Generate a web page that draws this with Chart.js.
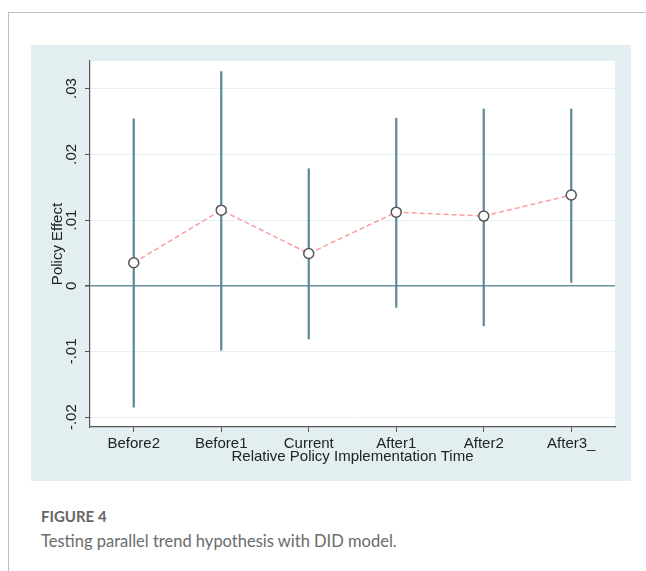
<!DOCTYPE html>
<html>
<head>
<meta charset="utf-8">
<script src="https://cdn.jsdelivr.net/npm/chart.js@4"></script>
<style>
  body { margin: 0; background: #fff; width: 646px; height: 571px; overflow: hidden; position: relative; }
  .frame { position: absolute; left: 8px; top: 12px; width: 640px; height: 570px; border-top: 1px solid #bdbdbd; border-left: 1px solid #bdbdbd; }
  .panel { position: absolute; left: 31px; top: 45px; width: 600px; height: 436px; background: #e2eef0; }
  .cap1 { position: absolute; left: 41px; top: 507px; font: bold 15px Lato, "Open Sans", sans-serif; color: #666; }
  .cap2 { position: absolute; left: 41px; top: 531px; font: 16.5px Lato, "Open Sans", sans-serif; color: #6b6b6b; }
</style>
</head>
<body>
<div class="frame"></div>
<div class="panel"><canvas id="did" width="600" height="436"></canvas></div>
<div class="cap1">FIGURE 4</div>
<div class="cap2">Testing parallel trend hypothesis with DID model.</div>
<script>
// relative periods
const periods = ['Before2', 'Before1', 'Current', 'After1', 'After2', 'After3_'];
// point estimates
const effect = [0.0035, 0.0115, 0.0049, 0.0112, 0.0106, 0.0138];
// confidence intervals
const ciLow = [-0.0185, -0.0098, -0.0081, -0.0033, -0.0061, 0.0005];
const ciHigh = [0.0254, 0.0326, 0.0178, 0.0255, 0.0269, 0.0269];
const yTicks = [-0.02, -0.01, 0, 0.01, 0.02, 0.03];

const plotBg = {
    id: 'plotBg',
    beforeDraw(chart) {
        const a = chart.chartArea, c = chart.ctx;
        c.save();
        c.fillStyle = '#ffffff';
        c.fillRect(a.left, a.top, a.right - a.left, a.bottom - a.top);
        c.restore();
    }
};

const fmt = v => {
    if (Math.abs(v) < 1e-9) return '0';
    return (v < 0 ? '-' : '') + Math.abs(v).toFixed(2).replace(/^0/, '');
};

const axisFont = { family: 'Liberation Sans, Arial', size: 15 };

var ctx = document.getElementById('did').getContext('2d');
var didChart = new Chart(ctx, {
    data: {
        labels: periods,
        datasets: [{
            type: 'line',
            data: effect,
            order: 0,
            borderColor: '#ff9b9b',
            borderWidth: 1.5,
            borderDash: [5, 3],
            pointRadius: 5,
            pointBackgroundColor: '#ffffff',
            pointBorderColor: '#555555',
            pointBorderWidth: 1.5,
            tension: 0
        }, {
            type: 'bar',
            data: periods.map((p, i) => [ciLow[i], ciHigh[i]]),
            order: 1,
            backgroundColor: '#5f8a9c',
            barThickness: 1.6,
            borderSkipped: false
        }]
    },
    options: {
        responsive: false,
        animation: false,
        layout: { padding: { top: 16, right: 16, left: 16, bottom: 15 } },
        plugins: { legend: { display: false }, tooltip: { enabled: false } },
        scales: {
            x: {
                offset: true,
                grid: { drawOnChartArea: false, drawTicks: true, tickLength: 5, tickColor: '#555', offset: false },
                border: { color: '#555', width: 1.2 },
                ticks: { color: '#222', font: axisFont, padding: 3, maxRotation: 0 },
                title: { display: true, text: 'Relative Policy Implementation Time', color: '#222', font: axisFont, padding: { top: -8, bottom: 0 } }
            },
            y: {
                min: -0.0215,
                max: 0.0342,
                afterBuildTicks: axis => { axis.ticks = yTicks.map(v => ({ value: v })); },
                grid: {
                    color: c => Math.abs(c.tick.value) < 1e-9 ? '#6a8fa0' : '#e6eff2',
                    lineWidth: c => Math.abs(c.tick.value) < 1e-9 ? 1.6 : 1,
                    tickColor: '#555',
                    tickLength: 5
                },
                border: { color: '#555', width: 1.2 },
                ticks: { color: '#222', font: axisFont, minRotation: 90, maxRotation: 90, crossAlign: 'center', padding: 0, callback: v => fmt(v) },
                title: { display: true, text: 'Policy Effect', color: '#222', font: axisFont, padding: { top: 2, bottom: 0 } }
            }
        }
    },
    plugins: [plotBg]
});
</script>
</body>
</html>
